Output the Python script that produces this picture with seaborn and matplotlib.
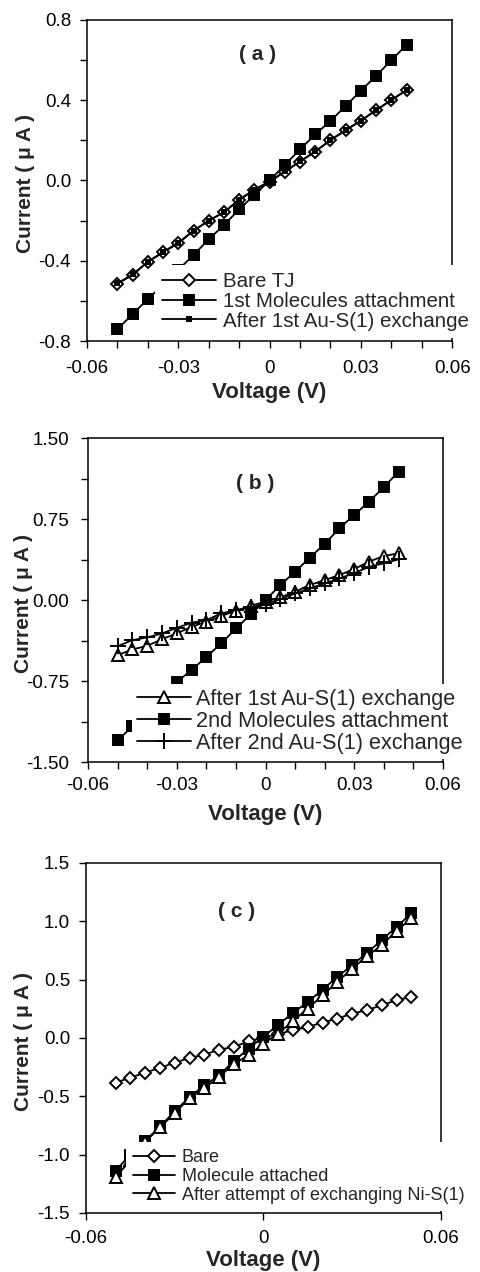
import matplotlib
matplotlib.use("Agg")
import matplotlib.pyplot as plt
from matplotlib.ticker import MultipleLocator
import seaborn as sns

# voltage sweep (V)
voltage = [-0.05, -0.045, -0.04, -0.035, -0.03, -0.025, -0.02, -0.015, -0.01, -0.005,
           0.0, 0.005, 0.01, 0.015, 0.02, 0.025, 0.03, 0.035, 0.04, 0.045]
voltage_c = voltage + [0.05]

# panel (a) currents (uA)
a_bare = [-0.515, -0.47, -0.405, -0.358, -0.313, -0.25, -0.20, -0.159, -0.097, -0.047,
          -0.006, 0.044, 0.094, 0.144, 0.202, 0.252, 0.298, 0.351, 0.401, 0.451]
a_mol1 = [-0.74, -0.666, -0.59, -0.52, -0.445, -0.371, -0.293, -0.222, -0.144, -0.072,
          0.0, 0.077, 0.155, 0.23, 0.297, 0.371, 0.448, 0.521, 0.60, 0.675]
a_exch1 = [-0.512, -0.468, -0.405, -0.356, -0.31, -0.25, -0.2, -0.157, -0.095, -0.045,
           -0.005, 0.045, 0.095, 0.145, 0.2, 0.25, 0.298, 0.35, 0.4, 0.45]

# panel (b)
b_exch1 = [-0.51, -0.457, -0.424, -0.362, -0.309, -0.247, -0.201, -0.148, -0.099, -0.052,
           -0.015, 0.025, 0.077, 0.14, 0.185, 0.232, 0.288, 0.356, 0.408, 0.433]
b_mol2 = [-1.30, -1.17, -1.02, -0.89, -0.758, -0.649, -0.526, -0.402, -0.263, -0.133,
          0.0, 0.139, 0.263, 0.393, 0.52, 0.665, 0.789, 0.912, 1.045, 1.19]
b_exch2 = [-0.427, -0.371, -0.346, -0.309, -0.257, -0.21, -0.186, -0.124, -0.093, -0.068,
           -0.037, 0.006, 0.062, 0.108, 0.155, 0.201, 0.248, 0.309, 0.34, 0.377]

# panel (c)
c_bare = [-0.383, -0.34, -0.297, -0.257, -0.211, -0.172, -0.143, -0.10, -0.077, -0.028,
          0.003, 0.035, 0.066, 0.094, 0.132, 0.166, 0.209, 0.238, 0.281, 0.324, 0.352]
c_mol = [-1.136, -1.0, -0.884, -0.758, -0.629, -0.506, -0.406, -0.32, -0.197, -0.091,
         0.009, 0.115, 0.215, 0.309, 0.415, 0.524, 0.624, 0.73, 0.839, 0.953, 1.068]
c_attempt = [-1.193, -1.05, -0.89, -0.767, -0.644, -0.515, -0.429, -0.335, -0.22, -0.149,
             -0.048, 0.038, 0.146, 0.252, 0.366, 0.48, 0.595, 0.701, 0.796, 0.918, 1.025]

x_ticks_ab = [-0.06, -0.03, 0, 0.03, 0.06]
x_labels_ab = ["-0.06", "-0.03", "0", "0.03", "0.06"]
x_ticks_c = [-0.06, 0, 0.06]
x_labels_c = ["-0.06", "0", "0.06"]
y_ticks_a = [-0.8, -0.4, 0.0, 0.4, 0.8]
y_labels_a = ["-0.8", "-0.4", "0.0", "0.4", "0.8"]
y_ticks_b = [-1.5, -0.75, 0.0, 0.75, 1.5]
y_labels_b = ["-1.50", "-0.75", "0.00", "0.75", "1.50"]
y_ticks_c = [-1.5, -1.0, -0.5, 0.0, 0.5, 1.0, 1.5]
y_labels_c = ["-1.5", "-1.0", "-0.5", "0.0", "0.5", "1.0", "1.5"]

sns.set_theme(style="white")
plt.rcParams["font.family"] = ["Liberation Sans", "DejaVu Sans"]
plt.rcParams["axes.unicode_minus"] = False

fig = plt.figure(figsize=(4.81, 12.72), dpi=100)
ax_a = fig.add_axes([0.181, 0.7319, 0.759, 0.2524])
ax_b = fig.add_axes([0.183, 0.4009, 0.738, 0.2547])
ax_c = fig.add_axes([0.1788, 0.0464, 0.738, 0.2752])

line_kw = dict(color="black", linewidth=1.3, markeredgecolor="black", markeredgewidth=1.4)


def series(ax, x, y, label, marker, ms, fill):
    sns.lineplot(x=x, y=y, ax=ax, label=label, marker=marker, markersize=ms,
                 markerfacecolor=fill, **line_kw)


# (a)
series(ax_a, voltage, a_bare, "Bare TJ", "D", 6.5, "white")
series(ax_a, voltage, a_mol1, "1st Molecules attachment", "s", 7, "black")
series(ax_a, voltage, a_exch1, "After 1st Au-S(1) exchange", "s", 2.5, "black")

# (b)
series(ax_b, voltage, b_exch1, "After 1st Au-S(1) exchange", "^", 8, "white")
series(ax_b, voltage, b_mol2, "2nd Molecules attachment", "s", 7, "black")
series(ax_b, voltage, b_exch2, "After 2nd Au-S(1) exchange", "+", 11, "black")

# (c)
series(ax_c, voltage_c, c_bare, "Bare", "D", 6, "white")
series(ax_c, voltage_c, c_mol, "Molecule attached", "s", 7, "black")
series(ax_c, voltage_c, c_attempt, "After attempt of exchanging Ni-S(1)", "^", 8, "white")

panels = [
    dict(ax=ax_a, xt=x_ticks_ab, xl=x_labels_ab, yt=y_ticks_a, yl=y_labels_a, ylim=(-0.8, 0.8),
         tag="( a )", tag_pos=(0.466, 0.891), leg_pos=(0.186, 0.236), leg_fs=14.8, spacing=0.03,
         bp=0.35, hl=2.6, htp=0.34, ymin=0.2, xpad=9, ypad=6.5, ylab_x=-0.142, xlab_y=-0.128),
    dict(ax=ax_b, xt=x_ticks_ab, xl=x_labels_ab, yt=y_ticks_b, yl=y_labels_b, ylim=(-1.5, 1.5),
         tag="( b )", tag_pos=(0.472, 0.86), leg_pos=(0.124, 0.24), leg_fs=15.6, spacing=0.04,
         bp=0.22, hl=2.5, htp=0.23, ymin=0.375, xpad=5.5, ypad=8.5, ylab_x=-0.155, xlab_y=-0.130),
    dict(ax=ax_c, xt=x_ticks_c, xl=x_labels_c, yt=y_ticks_c, yl=y_labels_c, ylim=(-1.5, 1.5),
         tag="( c )", tag_pos=(0.424, 0.861), leg_pos=(0.114, 0.202), leg_fs=13, spacing=0.1,
         bp=0.38, hl=2.3, htp=0.39, ymin=None, xpad=7, ypad=6.5, ylab_x=-0.149, xlab_y=-0.105),
]

for p in panels:
    ax = p["ax"]
    ax.set_xlim(-0.06, 0.06)
    ax.set_ylim(*p["ylim"])
    ax.set_xticks(p["xt"])
    ax.set_xticklabels(p["xl"])
    ax.set_yticks(p["yt"])
    ax.set_yticklabels(p["yl"])
    if p["ymin"]:
        ax.xaxis.set_minor_locator(MultipleLocator(0.01))
        ax.yaxis.set_minor_locator(MultipleLocator(p["ymin"]))
    ax.tick_params(which="both", direction="out", length=5, width=1, color="black",
                   labelsize=13.5, labelcolor="black", bottom=True, left=True,
                   top=False, right=False)
    ax.tick_params(axis="x", which="both", pad=p["xpad"])
    ax.tick_params(axis="y", which="both", pad=p["ypad"])
    for s in ax.spines.values():
        s.set_color("black")
        s.set_linewidth(1.1)
    ax.set_xlabel("Voltage (V)", fontsize=16, fontweight="bold")
    ax.set_ylabel("Current ( \u03bc A )", fontsize=15, fontweight="bold")
    ax.xaxis.set_label_coords(0.5, p["xlab_y"])
    ax.yaxis.set_label_coords(p["ylab_x"], 0.49)
    ax.text(p["tag_pos"][0], p["tag_pos"][1], p["tag"], transform=ax.transAxes,
            ha="center", va="center", fontsize=15, fontweight="bold")
    leg = ax.legend(loc="upper left", bbox_to_anchor=p["leg_pos"], fontsize=p["leg_fs"],
                    frameon=True, fancybox=False, framealpha=1, facecolor="white",
                    edgecolor="none", borderpad=p["bp"], labelspacing=p["spacing"],
                    handlelength=p["hl"], handletextpad=p["htp"], borderaxespad=0)
    leg.set_clip_on(False)

fig.savefig("out.png", dpi=100)
